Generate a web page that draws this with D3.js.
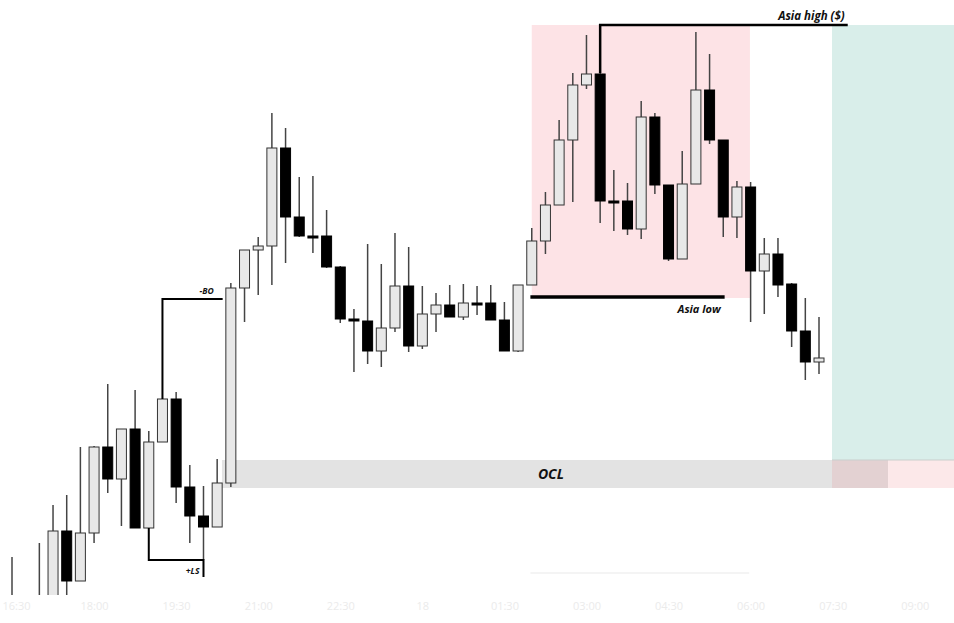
<!DOCTYPE html>
<html>
<head>
<meta charset="utf-8">
<script src="https://cdn.jsdelivr.net/npm/d3@7"></script>
<style>
  html, body { margin: 0; padding: 0; background: #ffffff; }
  svg { display: block; }
</style>
</head>
<body>
<svg id="chart" width="954" height="623"></svg>
<script>
// ---- Data (price points; higher = up) ----
const opens  = [104, 90, 70, 90, 169, 119, 167, 253, 221, 271, 172, 258, 301, 213, 184, 173, 217, 412, 450, 454,
                552, 483, 464, 464, 433, 381, 379, 349, 372, 414, 354, 386, 395, 383, 397, 397, 380, 349, 415, 459,
                495, 560, 615, 626, 499, 499, 471, 583, 515, 441, 516, 610, 560, 483, 513, 429, 446, 416, 369, 338];
const highs  = [143, 102, 157, 195, 205, 253, 254, 316, 271, 310, 269, 301, 308, 235, 214, 241, 417, 450, 463, 587,
                572, 523, 524, 490, 434, 391, 456, 436, 467, 453, 414, 407, 415, 416, 414, 415, 398, 415, 472, 508,
                580, 627, 665, 675, 530, 517, 599, 587, 515, 549, 668, 646, 560, 519, 518, 462, 462, 417, 402, 383];
const lows   = [60, 85, 60, 85, 100, 119, 157, 207, 174, 172, 172, 258, 197, 157, 140, 173, 213, 378, 405, 415,
                437, 463, 447, 432, 377, 328, 336, 333, 368, 348, 351, 368, 383, 380, 385, 380, 349, 348, 415, 446,
                495, 498, 611, 477, 469, 465, 461, 506, 439, 441, 516, 556, 463, 462, 378, 386, 403, 353, 320, 326];
const closes = [80, 95, 102, 169, 119, 167, 253, 221, 271, 172, 258, 301, 213, 184, 173, 217, 412, 450, 454, 552,
                483, 464, 463, 433, 381, 379, 349, 372, 414, 354, 386, 395, 383, 397, 396, 380, 349, 415, 459, 495,
                560, 615, 626, 499, 498, 471, 583, 515, 441, 516, 610, 560, 483, 513, 429, 446, 415, 369, 338, 342];

// Time axis labels (every 6 candles)
const tickIndex  = [0, 6, 12, 18, 24, 30, 36, 42, 48, 54, 60, 66];
const tickLabels = ["16:30", "18:00", "19:30", "21:00", "22:30", "18", "01:30", "03:00", "04:30", "06:00", "07:30", "09:00"];

// Zones / annotations (index, price)
const asiaBox   = {x0: 38, x1: 53.95, top: 675, bottom: 402};
const asiaHigh  = {x0: 43, x1: 61.1, price: 675, label: "Asia high ($)"};
const asiaLow   = {x0: 37.9, x1: 52.1, price: 403, label: "Asia low"};
const tealZone  = {x0: 59.95, x1: 70, top: 675, bottom: 240};
const oclZone   = {x0: 15.35, x1: 59.95, x2: 64.05, x3: 70, top: 240, bottom: 212, label: "OCL"};
const boMark    = {x0: 11, x1: 15.4, price: 401, base: 301, label: "-BO"};
const lsMark    = {x0: 10, x1: 14, price: 140, leftBase: 172, rightEnd: 123, label: "+LS"};

// ---- Scales ----
const svg = d3.select("#chart");
const x = d3.scaleLinear().domain([0, 59]).range([12, 819]);
const y = d3.scaleLinear().domain([100, 700]).range([600, 0]);
const candleW = 10;

const candles = opens.map((o, i) => ({i, o, h: highs[i], l: lows[i], c: closes[i]}));

// clip for plot area
svg.append("defs").append("clipPath").attr("id", "plot")
  .append("rect").attr("x", 0).attr("y", 0).attr("width", 954).attr("height", 595);

const g = svg.append("g").attr("clip-path", "url(#plot)");

// Asia box
g.append("rect")
  .attr("x", x(asiaBox.x0)).attr("y", y(asiaBox.top))
  .attr("width", x(asiaBox.x1) - x(asiaBox.x0)).attr("height", y(asiaBox.bottom) - y(asiaBox.top))
  .attr("fill", "#fde3e6");

// Teal zone
g.append("rect")
  .attr("x", x(tealZone.x0)).attr("y", y(tealZone.top))
  .attr("width", x(tealZone.x1) - x(tealZone.x0)).attr("height", y(tealZone.bottom) - y(tealZone.top))
  .attr("fill", "#d9eeea");

// OCL band
g.append("rect")
  .attr("x", x(oclZone.x0)).attr("y", y(oclZone.top))
  .attr("width", x(oclZone.x1) - x(oclZone.x0)).attr("height", y(oclZone.bottom) - y(oclZone.top))
  .attr("fill", "#e3e3e3");
g.append("rect")
  .attr("x", x(oclZone.x1)).attr("y", y(oclZone.top))
  .attr("width", x(oclZone.x2) - x(oclZone.x1)).attr("height", y(oclZone.bottom) - y(oclZone.top))
  .attr("fill", "#e3d1d2");
g.append("rect")
  .attr("x", x(oclZone.x2)).attr("y", y(oclZone.top))
  .attr("width", x(oclZone.x3) - x(oclZone.x2)).attr("height", y(oclZone.bottom) - y(oclZone.top))
  .attr("fill", "#fce8e9");
g.append("line")
  .attr("x1", x(oclZone.x1)).attr("x2", x(oclZone.x3))
  .attr("y1", y(oclZone.top)).attr("y2", y(oclZone.top))
  .attr("stroke", "#c9cfcd").attr("stroke-width", 1);

// faint guide line beneath Asia box
g.append("line")
  .attr("x1", x(37.9)).attr("x2", x(53.9)).attr("y1", y(127)).attr("y2", y(127))
  .attr("stroke", "#f1f1f1").attr("stroke-width", 1.5);

// Candles
const cg = g.append("g");
cg.selectAll("line.wick").data(candles).join("line")
  .attr("class", "wick")
  .attr("x1", d => x(d.i)).attr("x2", d => x(d.i))
  .attr("y1", d => y(d.h)).attr("y2", d => y(d.l))
  .attr("stroke", "#444444").attr("stroke-width", 1.5);

cg.selectAll("rect.body").data(candles).join("rect")
  .attr("class", "body")
  .attr("x", d => x(d.i) - candleW / 2)
  .attr("width", candleW)
  .attr("y", d => y(Math.max(d.o, d.c)))
  .attr("height", d => Math.max(2, Math.abs(y(d.o) - y(d.c))))
  .attr("fill", d => d.c >= d.o ? "#e8e8e8" : "#000000")
  .attr("stroke", d => d.c >= d.o ? "#333333" : "#000000")
  .attr("stroke-width", 1);

const labelFont = sel => sel
  .attr("font-family", "Open Sans, sans-serif").attr("font-style", "italic")
  .attr("font-weight", 700).attr("fill", "#111");

// Asia high line
const ann = svg.append("g");
ann.append("path")
  .attr("d", `M${x(asiaHigh.x0)},${y(asiaBox.top) + 48} V${y(asiaHigh.price)} H${x(asiaHigh.x1)}`)
  .attr("fill", "none").attr("stroke", "#000").attr("stroke-width", 2.5);
ann.append("text")
  .attr("x", x(asiaHigh.x1) - 3).attr("y", y(asiaHigh.price) - 5)
  .attr("text-anchor", "end").attr("font-size", 11.5)
  .call(labelFont)
  .text(asiaHigh.label);

// Asia low line
ann.append("line")
  .attr("x1", x(asiaLow.x0)).attr("x2", x(asiaLow.x1))
  .attr("y1", y(asiaLow.price)).attr("y2", y(asiaLow.price))
  .attr("stroke", "#000").attr("stroke-width", 3.5);
ann.append("text")
  .attr("x", x(asiaLow.x1) - 4).attr("y", y(asiaLow.price) + 16)
  .attr("text-anchor", "end").attr("font-size", 11)
  .call(labelFont)
  .text(asiaLow.label);

// -BO bracket
ann.append("path")
  .attr("d", `M${x(boMark.x0)},${y(boMark.base)} V${y(boMark.price)} H${x(boMark.x1)}`)
  .attr("fill", "none").attr("stroke", "#000").attr("stroke-width", 2);
ann.append("text")
  .attr("x", x(boMark.x1) - 9).attr("y", y(boMark.price) - 5)
  .attr("text-anchor", "end").attr("font-size", 8.5)
  .call(labelFont)
  .text(boMark.label);

// +LS bracket
ann.append("path")
  .attr("d", `M${x(lsMark.x0)},${y(lsMark.leftBase)} V${y(lsMark.price)} H${x(lsMark.x1)} V${y(lsMark.rightEnd)}`)
  .attr("fill", "none").attr("stroke", "#000").attr("stroke-width", 2);
ann.append("text")
  .attr("x", x(lsMark.x1) - 4).attr("y", y(lsMark.price) + 14)
  .attr("text-anchor", "end").attr("font-size", 8.5)
  .call(labelFont)
  .text(lsMark.label);

// OCL label
ann.append("text")
  .attr("x", x(39.4)).attr("y", (y(oclZone.top) + y(oclZone.bottom)) / 2 + 5)
  .attr("text-anchor", "middle").attr("font-size", 14)
  .call(labelFont)
  .text(oclZone.label);

// Time axis (very faint)
const axis = d3.axisBottom(x)
  .tickValues(tickIndex)
  .tickFormat((d, i) => tickLabels[i])
  .tickSize(0).tickPadding(0);
const ax = svg.append("g").attr("transform", "translate(0,600)").call(axis);
ax.select(".domain").remove();
ax.selectAll("text")
  .attr("font-family", "Open Sans, sans-serif").attr("font-size", 11)
  .attr("fill", "#ebebeb").attr("dy", "0.9em")
  .attr("text-anchor", (d, i) => i === 0 ? "start" : "middle")
  .attr("dx", (d, i) => i === 0 ? -10 : 0);
</script>
</body>
</html>
